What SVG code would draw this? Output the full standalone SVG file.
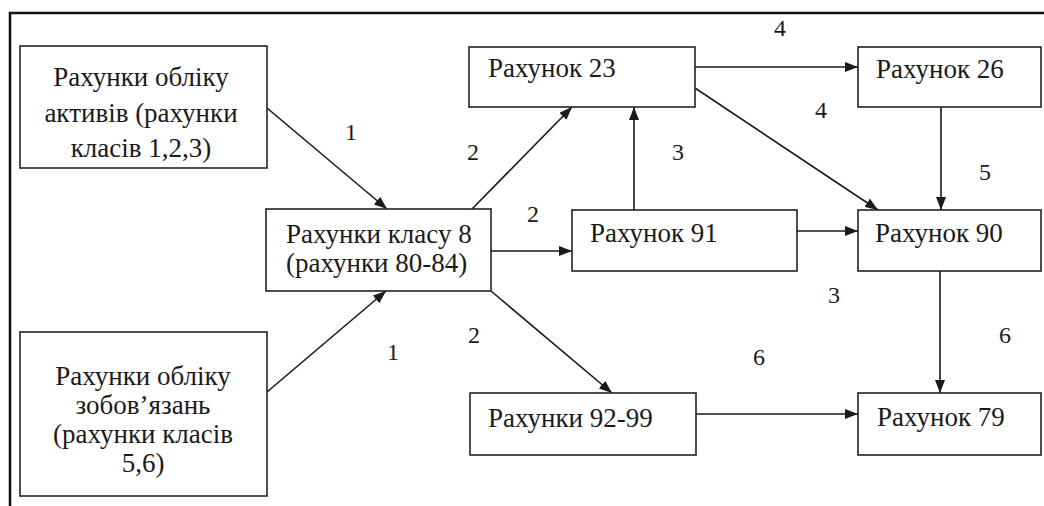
<svg xmlns="http://www.w3.org/2000/svg" width="1044" height="506" viewBox="0 0 1044 506">
<defs>
<marker id="ah" viewBox="0 0 13 10" refX="13" refY="5" markerWidth="13" markerHeight="10" markerUnits="userSpaceOnUse" orient="auto">
<path d="M0,0 L13,5 L0,10 z" fill="#1a1a1a"/>
</marker>
</defs>
<style>
.box{fill:#fff;stroke:#222;stroke-width:1.6}
.t{font-size:27px;fill:#1a1a1a;font-family:'Liberation Serif',serif !important}
.c{text-anchor:middle}
.lbl{font-size:24px;text-anchor:middle;fill:#1a1a1a;font-family:'Liberation Serif',serif !important}
.ln{stroke:#1a1a1a;stroke-width:1.6;fill:none;marker-end:url(#ah)}
</style>
<rect width="1044" height="506" fill="#fff"/>
<g id="frame">
<path d="M10,506 L10,13 L1044,13" fill="none" stroke="#111" stroke-width="2.5"/>
</g>
<g id="connectors">
<line class="ln" x1="267" y1="108" x2="387" y2="209"/>
<line class="ln" x1="267" y1="392" x2="386" y2="291"/>
<line class="ln" x1="472" y1="209" x2="572" y2="107"/>
<line class="ln" x1="491" y1="251" x2="572" y2="251"/>
<line class="ln" x1="491" y1="291" x2="612" y2="393"/>
<line class="ln" x1="634" y1="210" x2="634" y2="107"/>
<line class="ln" x1="695" y1="67" x2="858" y2="67"/>
<line class="ln" x1="695" y1="88" x2="878" y2="210"/>
<line class="ln" x1="941" y1="107" x2="941" y2="210"/>
<line class="ln" x1="797" y1="231" x2="858" y2="231"/>
<line class="ln" x1="940" y1="271" x2="940" y2="393"/>
<line class="ln" x1="696" y1="414" x2="858" y2="414"/>
</g>
<g id="labels">
<text class="lbl" style="font-family:'Liberation Serif',serif" font-family="Liberation Serif" x="351" y="140">1</text>
<text class="lbl" style="font-family:'Liberation Serif',serif" font-family="Liberation Serif" x="393" y="360">1</text>
<text class="lbl" style="font-family:'Liberation Serif',serif" font-family="Liberation Serif" x="473" y="160">2</text>
<text class="lbl" style="font-family:'Liberation Serif',serif" font-family="Liberation Serif" x="533" y="222">2</text>
<text class="lbl" style="font-family:'Liberation Serif',serif" font-family="Liberation Serif" x="474" y="343">2</text>
<text class="lbl" style="font-family:'Liberation Serif',serif" font-family="Liberation Serif" x="678" y="160">3</text>
<text class="lbl" style="font-family:'Liberation Serif',serif" font-family="Liberation Serif" x="780" y="36">4</text>
<text class="lbl" style="font-family:'Liberation Serif',serif" font-family="Liberation Serif" x="821" y="118">4</text>
<text class="lbl" style="font-family:'Liberation Serif',serif" font-family="Liberation Serif" x="985" y="180">5</text>
<text class="lbl" style="font-family:'Liberation Serif',serif" font-family="Liberation Serif" x="834" y="303">3</text>
<text class="lbl" style="font-family:'Liberation Serif',serif" font-family="Liberation Serif" x="759" y="365">6</text>
<text class="lbl" style="font-family:'Liberation Serif',serif" font-family="Liberation Serif" x="1005" y="343">6</text>
</g>
<g id="node-assets">
<rect class="box" x="20" y="46" width="247" height="122"/>
<text class="t c" style="font-family:'Liberation Serif',serif" font-family="Liberation Serif" x="141" y="86">Рахунки обліку</text>
<text class="t c" style="font-family:'Liberation Serif',serif" font-family="Liberation Serif" x="141" y="122">активів (рахунки</text>
<text class="t c" style="font-family:'Liberation Serif',serif" font-family="Liberation Serif" x="141" y="157">класів 1,2,3)</text>
</g>
<g id="node-liabilities">
<rect class="box" x="20" y="332" width="247" height="164"/>
<text class="t c" style="font-family:'Liberation Serif',serif" font-family="Liberation Serif" x="143" y="385">Рахунки обліку</text>
<text class="t c" style="font-family:'Liberation Serif',serif" font-family="Liberation Serif" x="143" y="414">зобов’язань</text>
<text class="t c" style="font-family:'Liberation Serif',serif" font-family="Liberation Serif" x="143" y="443">(рахунки класів</text>
<text class="t c" style="font-family:'Liberation Serif',serif" font-family="Liberation Serif" x="143" y="472">5,6)</text>
</g>
<g id="node-class8">
<rect class="box" x="266" y="209" width="225" height="82"/>
<text class="t" style="font-family:'Liberation Serif',serif" font-family="Liberation Serif" x="286" y="243">Рахунки класу 8</text>
<text class="t" style="font-family:'Liberation Serif',serif" font-family="Liberation Serif" x="286" y="272">(рахунки 80-84)</text>
</g>
<g id="node-23">
<rect class="box" x="469" y="47" width="226" height="60"/>
<text class="t" style="font-family:'Liberation Serif',serif" font-family="Liberation Serif" x="488" y="77">Рахунок 23</text>
</g>
<g id="node-26">
<rect class="box" x="858" y="47" width="183" height="60"/>
<text class="t" style="font-family:'Liberation Serif',serif" font-family="Liberation Serif" x="876" y="78">Рахунок 26</text>
</g>
<g id="node-91">
<rect class="box" x="572" y="210" width="225" height="61"/>
<text class="t" style="font-family:'Liberation Serif',serif" font-family="Liberation Serif" x="590" y="242">Рахунок 91</text>
</g>
<g id="node-90">
<rect class="box" x="858" y="210" width="183" height="61"/>
<text class="t" style="font-family:'Liberation Serif',serif" font-family="Liberation Serif" x="875" y="242">Рахунок 90</text>
</g>
<g id="node-92-99">
<rect class="box" x="470" y="393" width="226" height="62"/>
<text class="t" style="font-family:'Liberation Serif',serif" font-family="Liberation Serif" x="488" y="427">Рахунки 92-99</text>
</g>
<g id="node-79">
<rect class="box" x="858" y="393" width="183" height="62"/>
<text class="t" style="font-family:'Liberation Serif',serif" font-family="Liberation Serif" x="877" y="426">Рахунок 79</text>
</g>
</svg>
